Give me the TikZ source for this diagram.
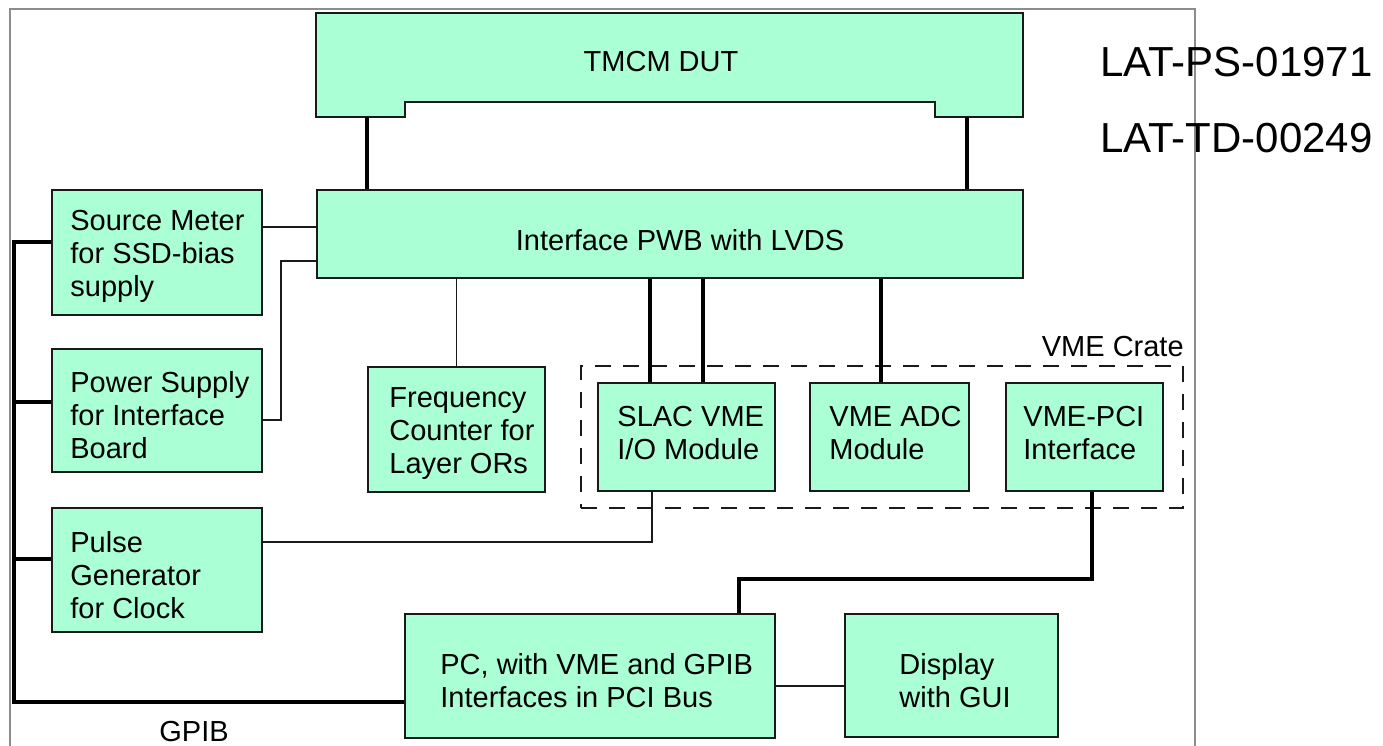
\documentclass[tikz,border=0pt]{standalone}
\usepackage{fontspec}
\setmainfont{Liberation Sans}
\definecolor{mint}{HTML}{AAFFD4}
\definecolor{edge}{HTML}{1A1A1A}
\definecolor{framegray}{HTML}{8C8C8C}
\begin{document}
\begin{tikzpicture}[x=1pt,y=-1pt,
  box/.style={draw=edge, fill=mint, line width=1.6pt, inner sep=0pt},
  lbl/.style={font=\fontsize{29}{33}\selectfont, inner sep=0pt, align=left, anchor=west},
  thinln/.style={draw=edge, line width=1.6pt},
  thickln/.style={draw=black, line width=3.6pt},
  crateline/.style={draw=edge, line width=1.8pt, dash pattern=on 16pt off 12pt},
]
\useasboundingbox (0,0) rectangle (1383,746);
% frame
\draw[framegray, line width=1.3pt] (10,760) -- (10,9) -- (1195,9) -- (1195,760);

% TMCM DUT
\draw[draw=edge, fill=mint, line width=1.6pt]
  (316,13) -- (1023,13) -- (1023,117) -- (935,117) -- (935,102)
  -- (405,102) -- (405,117) -- (316,117) -- cycle;
\node[font=\fontsize{29}{33}\selectfont, inner sep=0pt] (dut) at (661,62) {TMCM DUT};
\coordinate (dutL) at (367,117);
\coordinate (dutR) at (967,117);

% boxes
\node[box, minimum width=706pt, minimum height=88pt] (pwb) at (670,234) {};
\node[box, minimum width=210pt, minimum height=125pt] (sm) at (157,252.5) {};
\node[box, minimum width=210pt, minimum height=123pt] (ps) at (157,410.5) {};
\node[box, minimum width=177pt, minimum height=125pt] (freq) at (456.5,429.5) {};
\node[crateline, minimum width=602pt, minimum height=142pt, inner sep=0pt] (crate) at (882,437) {};
\node[box, minimum width=177pt, minimum height=108pt] (slac) at (686.5,437) {};
\node[box, minimum width=159pt, minimum height=108pt] (adc) at (889.5,437) {};
\node[box, minimum width=157pt, minimum height=108pt] (vpci) at (1084.5,437) {};
\node[box, minimum width=210pt, minimum height=124pt] (pg) at (157,570) {};
\node[box, minimum width=370pt, minimum height=124pt] (pc) at (590,676) {};
\node[box, minimum width=213pt, minimum height=123pt] (disp) at (951.5,675.5) {};

% texts
\node[lbl, anchor=center] (pwbt) at ([xshift=10pt,yshift=-6pt]pwb.center) {Interface PWB with LVDS};
\node[lbl] (smt) at ([xshift=19pt,yshift=-4pt]sm.west) {Source Meter\\for SSD-bias\\supply};
\node[lbl] (pst) at ([xshift=19pt,yshift=-5pt]ps.west) {Power Supply\\for Interface\\Board};
\node[lbl] (freqt) at ([xshift=22pt,yshift=-4pt]freq.west) {Frequency\\Counter for\\Layer ORs};
\node[lbl] (slact) at ([xshift=20pt,yshift=4pt]slac.west) {SLAC VME\\I/O Module};
\node[lbl] (adct) at ([xshift=20pt,yshift=4pt]adc.west) {VME ADC\\Module};
\node[lbl] (vpcit) at ([xshift=18pt,yshift=4pt]vpci.west) {VME-PCI\\Interface};
\node[lbl] (pgt) at ([xshift=19pt,yshift=-5pt]pg.west) {Pulse\\Generator\\for Clock};
\node[lbl] (pct) at ([xshift=36pt,yshift=-5pt]pc.west) {PC, with VME and GPIB\\Interfaces in PCI Bus};
\node[lbl] (dispt) at ([xshift=55pt,yshift=-5pt]disp.west) {Display\\with GUI};
\node[lbl, anchor=base east] (cratet) at ([yshift=9pt]crate.north east) {VME Crate};
\node[lbl, anchor=center] (gpib) at (194,732) {GPIB};
\node[font=\fontsize{42}{50}\selectfont, inner sep=0pt, anchor=base west] (doc1) at (1100,77) {LAT-PS-01971};
\node[font=\fontsize{42}{50}\selectfont, inner sep=0pt, anchor=base west] (doc2) at (1100,153) {LAT-TD-00249};

% DUT to PWB
\draw[thickln] (dutL) -- (dutL |- pwb.north);
\draw[thickln] (dutR) -- (dutR |- pwb.north);

% thin connectors
\draw[thinln] ([yshift=25.5pt]sm.east) -- ([yshift=25.5pt]sm.east -| pwb.west);
\draw[thinln] ([yshift=-9.5pt]ps.east) -- ++(18,0) |- ([yshift=-27pt]pwb.west);
\draw[thinln] (freq.north) -- (freq.north |- pwb.south);
\draw[thinln] ([yshift=28pt]pg.east) -| ([xshift=-34.5pt]slac.south);
\draw[thinln] ([yshift=-10pt]pc.east) -- ([yshift=-10pt]pc.east -| disp.west);

% thick connectors
\draw[thickln] ([xshift=-36.5pt]slac.north) -- ([xshift=-36.5pt]slac.north |- pwb.south);
\draw[thickln] ([xshift=16.5pt]slac.north) -- ([xshift=16.5pt]slac.north |- pwb.south);
\draw[thickln] ([xshift=-8.5pt]adc.north) -- ([xshift=-8.5pt]adc.north |- pwb.south);
\draw[thickln] ([xshift=7.5pt]vpci.south) -- ++(0,87) -| ([xshift=149pt]pc.north);

% GPIB bus
\draw[thickln] ([yshift=10.5pt]sm.west) -- ++(-37,0) |- ([yshift=-26pt]pc.west);
\draw[thickln] ([yshift=8.5pt]ps.west) -- ++(-37,0);
\draw[thickln] ([yshift=11pt]pg.west) -- ++(-37,0);
\end{tikzpicture}
\end{document}
